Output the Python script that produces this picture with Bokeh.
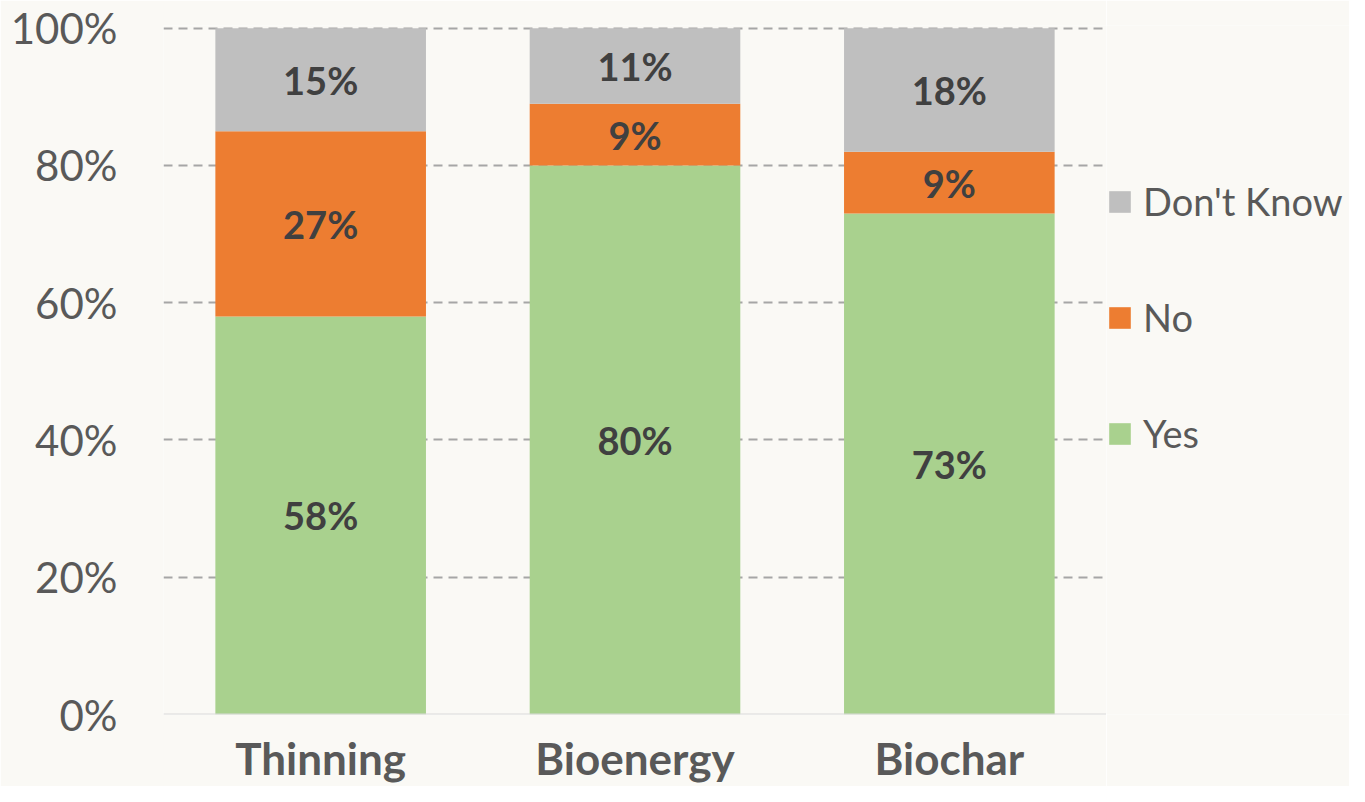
from bokeh.plotting import figure
from bokeh.layouts import row
from bokeh.models import (ColumnDataSource, Legend, LegendItem, Span,
                          PrintfTickFormatter, FixedTicker, LabelSet)
from bokeh.core.properties import value
from bokeh.embed import file_html
from bokeh.resources import INLINE

categories = ["Thinning", "Bioenergy", "Biochar"]
yes = [58, 80, 73]
no = [27, 9, 9]
dont_know = [15, 11, 18]
y_ticks = [0, 20, 40, 60, 80, 100]

series = ["yes", "no", "dk"]
series_labels = {"yes": "Yes", "no": "No", "dk": "Don't Know"}
colors = ["#A9D18E", "#ED7D31", "#BFBFBF"]

BG = "#FAF9F5"
FONT = "Lato"

src = ColumnDataSource(dict(cat=categories, yes=yes, no=no, dk=dont_know))

p = figure(x_range=categories, y_range=(0, 100.4), width=1106, height=786,
           output_backend="svg", toolbar_location=None,
           min_border_left=163, min_border_right=0,
           min_border_top=25, min_border_bottom=70)
p.background_fill_color = BG
p.border_fill_color = BG
p.outline_line_color = None

renderers = p.vbar_stack(series, x="cat", width=0.67, source=src,
                         color=colors, line_color=None)

# labels centered in each segment
lab_x, lab_y, lab_t = [], [], []
for i, c in enumerate(categories):
    base = 0
    for vals in (yes, no, dont_know):
        v = vals[i]
        lab_x.append(c)
        lab_y.append(base + v / 2)
        lab_t.append(f"{v}%")
        base += v
lsrc = ColumnDataSource(dict(x=lab_x, y=lab_y, t=lab_t))
labels = LabelSet(x="x", y="y", text="t", source=lsrc,
                  text_align="center", text_baseline="middle",
                  text_font=value(FONT), text_font_style="bold",
                  text_font_size="38px", text_color="#404040")
p.add_layout(labels)

# grid
p.xgrid.grid_line_color = None
p.ygrid.grid_line_color = "#A6A6A6"
p.ygrid.grid_line_width = 2
p.ygrid.grid_line_dash = "9 6"

base_line = Span(location=0, dimension="width", line_color="#D9D9D9",
                 line_width=2)
p.add_layout(base_line)

# axes
p.yaxis.ticker = FixedTicker(ticks=y_ticks)
p.yaxis.formatter = PrintfTickFormatter(format="%d%%")
p.yaxis.axis_line_color = None
p.yaxis.major_tick_line_color = None
p.yaxis.minor_tick_line_color = None
p.yaxis.major_tick_out = 0
p.yaxis.major_tick_in = 0
p.yaxis.major_label_standoff = 46
p.yaxis.major_label_text_font = FONT
p.yaxis.major_label_text_font_size = "42px"
p.yaxis.major_label_text_color = "#595959"

p.xaxis.axis_line_color = None
p.xaxis.major_tick_line_color = None
p.xaxis.minor_tick_line_color = None
p.xaxis.major_tick_out = 0
p.xaxis.major_tick_in = 0
p.xaxis.major_label_standoff = 17
p.xaxis.major_label_text_font = FONT
p.xaxis.major_label_text_font_style = "bold"
p.xaxis.major_label_text_font_size = "44px"
p.xaxis.major_label_text_color = "#595959"

# legend in a side figure (top to bottom: Don't Know, No, Yes)
lg = figure(width=243, height=786, output_backend="svg",
            toolbar_location=None, x_axis_location=None,
            y_axis_location=None, x_range=(0, 1), y_range=(0, 1),
            min_border_left=0, min_border_right=0,
            min_border_top=25, min_border_bottom=70)
lg.background_fill_color = BG
lg.border_fill_color = BG
lg.outline_line_color = None
lg.grid.grid_line_color = None
# one hidden (NaN height) bar per series, only so the legend has swatches
hidden = ColumnDataSource(dict(x=[0.5], top=[float("nan")]))
leg_renderers = {}
for s, c in zip(series, colors):
    leg_renderers[s] = lg.vbar(x="x", top="top", width=0.5, source=hidden,
                               color=c, line_color=None)
items = [LegendItem(label=series_labels[s], renderers=[leg_renderers[s]])
         for s in series][::-1]
legend = Legend(items=items, location=(0, 258), orientation="vertical",
                background_fill_alpha=0, border_line_color=None,
                label_text_font=FONT, label_text_font_size="38px",
                label_text_color="#595959", glyph_width=27, glyph_height=27,
                label_standoff=10, spacing=70, padding=0, margin=0)
lg.add_layout(legend, "center")

layout = row(p, lg, spacing=0)
open("out.html", "w").write(file_html(layout, INLINE))
